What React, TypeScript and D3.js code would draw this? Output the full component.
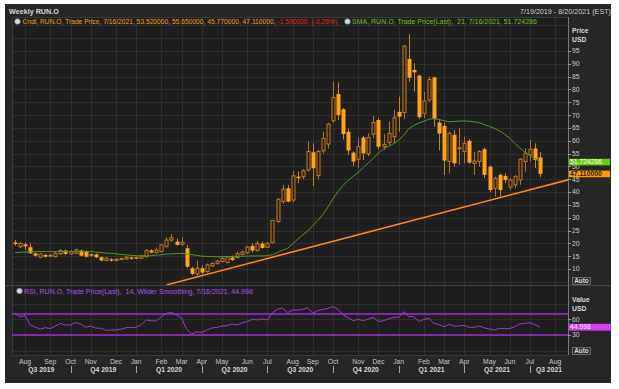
import * as d3 from "d3";

// weekly bars, first bar 7/19/2019
const startDate = new Date(Date.UTC(2019, 6, 19));

const opens = [
  20.3, 18.7, 19.6, 18.5, 16.1, 14.6, 15.5, 15.3, 14.8, 15.9,
  17.2, 15.9, 16.1, 17.2, 16.8, 15.7, 15.7, 14.6, 13.3, 13.8,
  13.3, 13.8, 13.9, 14.5, 14.2, 14.2, 14.8, 17.2, 16.4, 16.8,
  18.7, 21.3, 20.7, 19.6, 18.1, 10.3, 8.1, 10.3, 9.0, 11.2,
  12.2, 12.9, 12.5, 14.5, 14.5, 15.7, 16.3, 19.0, 17.2, 19.9,
  18.5, 20.3, 28.5, 36.3, 41.5, 36.9, 46.0, 46.0, 48.6, 55.5,
  46.4, 56.1, 58.7, 67.8, 78.2, 72.3, 63.5, 55.4, 52.8, 61.3,
  54.9, 62.6, 68.1, 57.7, 59.3, 61.6, 71.3, 71.0, 91.9, 87.6,
  85.4, 70.7, 75.9, 84.7, 67.1, 65.8, 51.9, 62.3, 57.0, 55.8,
  60.0, 51.2, 51.9, 56.7, 49.9, 41.5, 46.7, 46.3, 41.9, 42.8,
  44.7, 51.9, 54.5, 57.0, 53.52,
];
const highs = [
  21.3, 20.4, 20.3, 20.0, 16.5, 16.3, 15.9, 15.8, 16.7, 17.8,
  17.6, 17.4, 18.0, 17.6, 17.2, 16.1, 16.1, 14.9, 14.6, 14.2,
  14.2, 14.4, 15.0, 14.8, 14.9, 15.5, 17.8, 17.7, 18.3, 19.8,
  22.3, 23.6, 21.9, 22.4, 19.4, 10.9, 13.3, 11.4, 12.1, 12.6,
  13.6, 14.9, 15.2, 15.3, 16.8, 17.2, 19.0, 20.1, 20.9, 20.7,
  20.5, 29.1, 37.6, 42.8, 42.8, 48.3, 48.0, 48.9, 59.7, 59.0,
  56.4, 63.5, 67.0, 83.0, 82.7, 72.7, 64.8, 55.8, 61.3, 61.9,
  62.9, 69.7, 68.8, 62.6, 67.5, 72.0, 77.2, 97.3, 101.5, 90.2,
  85.8, 79.1, 85.0, 85.0, 68.0, 67.0, 63.6, 64.2, 64.9, 61.6,
  60.6, 55.8, 56.4, 57.3, 50.5, 46.0, 47.3, 47.3, 45.4, 46.7,
  53.2, 57.0, 60.3, 59.0, 55.65,
];
const lows = [
  19.1, 18.1, 17.4, 15.9, 14.8, 14.4, 14.5, 14.6, 14.6, 15.5,
  15.4, 15.6, 15.8, 14.9, 14.5, 14.8, 14.3, 13.0, 13.0, 12.9,
  13.0, 13.5, 13.6, 13.6, 13.8, 13.9, 14.6, 16.1, 16.0, 16.5,
  18.5, 20.6, 19.1, 19.0, 10.4, 7.7, 7.3, 8.0, 8.6, 10.9,
  11.7, 12.6, 12.2, 13.2, 14.2, 15.4, 16.0, 16.4, 16.7, 18.0,
  18.3, 20.0, 28.0, 35.5, 36.0, 36.0, 43.4, 45.0, 48.0, 42.3,
  45.0, 55.0, 57.0, 67.0, 68.0, 60.5, 54.5, 50.2, 49.3, 52.5,
  54.0, 61.0, 56.7, 56.4, 58.4, 59.0, 63.5, 68.4, 83.0, 79.2,
  68.4, 68.8, 75.2, 65.5, 56.2, 46.7, 47.3, 49.9, 50.6, 51.2,
  51.0, 46.7, 49.9, 45.5, 40.0, 38.2, 38.2, 43.4, 40.8, 41.5,
  42.8, 48.0, 51.9, 49.3, 45.77,
];
const closes = [
  19.7, 20.0, 18.8, 16.1, 15.2, 15.9, 14.8, 15.4, 16.1, 17.2,
  15.9, 16.8, 17.4, 15.2, 14.8, 15.2, 14.6, 13.3, 14.2, 13.3,
  13.8, 14.1, 14.6, 14.0, 14.5, 15.1, 17.2, 16.4, 17.4, 19.4,
  21.3, 22.2, 19.4, 20.4, 10.9, 8.1, 10.3, 8.6, 11.6, 12.2,
  13.1, 14.2, 14.8, 13.5, 16.0, 16.6, 18.5, 17.2, 20.0, 18.2,
  20.0, 28.9, 37.2, 41.1, 36.3, 46.3, 45.4, 48.3, 55.8, 49.3,
  55.8, 60.9, 66.5, 76.9, 70.0, 62.6, 56.2, 51.9, 57.7, 55.1,
  61.3, 67.1, 57.7, 58.6, 62.9, 69.0, 69.4, 96.9, 84.6, 86.7,
  69.2, 75.5, 83.9, 68.4, 62.8, 52.3, 62.9, 51.2, 57.3, 59.0,
  51.5, 52.1, 55.8, 46.7, 40.8, 45.4, 40.8, 44.7, 44.7, 46.0,
  52.8, 55.1, 56.7, 52.5, 47.11,
];
const sma21 = [
  16.4, 16.5, 16.6, 16.7, 16.8, 16.8, 16.8, 16.8, 16.8, 16.8,
  16.8, 16.8, 16.8, 16.8, 16.8, 16.8, 16.6, 16.4, 16.2, 16.1,
  15.9, 15.7, 15.5, 15.3, 15.2, 15.1, 15.1, 15.2, 15.4, 15.6,
  15.8, 15.9, 16.0, 16.1, 15.9, 15.6, 15.3, 15.0, 14.9, 14.8,
  14.8, 14.8, 14.8, 14.9, 14.9, 15.0, 15.0, 15.1, 15.1, 15.1,
  15.2, 15.6, 16.5, 17.3, 18.1, 19.8, 21.6, 23.3, 24.8, 26.9,
  29.0, 31.2, 34.2, 37.4, 40.2, 42.6, 44.6, 46.1, 47.7, 49.6,
  51.4, 53.2, 55.2, 56.8, 57.8, 58.9, 60.2, 62.2, 64.6, 66.0,
  66.9, 67.6, 68.4, 68.7, 68.3, 67.8, 67.4, 67.5, 67.7, 67.7,
  67.6, 67.4, 67.0, 66.3, 65.6, 64.8, 63.8, 62.5, 61.0, 59.0,
  57.2, 55.6, 54.4, 53.0, 51.72,
];
const rsi14 = [
  71, 65, 67, 49, 45, 41, 44, 42, 47, 52,
  49, 49, 54, 51, 45, 47, 43, 43, 39, 39.5,
  39.5, 41, 44, 44, 45, 49, 58.6, 57, 57, 65,
  71, 73, 68, 62, 41, 32, 36, 35, 39.5, 43.3,
  44.6, 47.1, 47.8, 51, 49, 53.5, 55.4, 59.8, 58.6, 60.5,
  58.6, 72.5, 78.9, 81.5, 72.5, 77.6, 77.6, 78.9, 82, 71.3,
  76.4, 78.9, 80.8, 84, 78.9, 68, 62.9, 57.3, 59.8, 57.3,
  60.5, 63.7, 55.4, 57.3, 60.5, 63.7, 63.7, 74.4, 64.9, 64.9,
  55.4, 59.8, 61.7, 52.2, 49.7, 45.9, 50.3, 47.1, 47.1, 48.4,
  44.6, 44.6, 47.1, 43.3, 41.4, 39.5, 42.7, 42.1, 42.1, 45.9,
  51, 52.2, 53.5, 49.7, 44.998,
];

const monthTickDates = [
  "2019-08-02", "2019-09-06", "2019-10-04", "2019-11-01", "2019-12-06",
  "2020-01-03", "2020-02-07", "2020-03-06", "2020-04-03", "2020-05-01",
  "2020-06-05", "2020-07-03", "2020-08-07", "2020-09-04", "2020-10-02",
  "2020-11-06", "2020-12-04", "2021-01-01", "2021-02-05", "2021-03-05",
  "2021-04-02", "2021-05-07", "2021-06-04", "2021-07-02", "2021-08-06",
];
const quarterStarts = ["2019-10-04", "2020-01-03", "2020-04-03", "2020-07-03", "2020-10-02", "2021-01-01", "2021-04-02", "2021-07-02"];
const quarterLabels = ["Q3 2019", "Q4 2019", "Q1 2020", "Q2 2020", "Q3 2020", "Q4 2020", "Q1 2021", "Q2 2021", "Q3 2021"];

const trendDates = ["2020-02-14", "2021-08-27"];
const trendPrices = [3.8, 45.0];

const priceTicks = d3.range(10, 100, 5);
const priceGrid = d3.range(5, 110, 5);
const rsiTicks = [60, 30];
const rsiGrid = [0, 30, 60, 90];
const rsiBands = [70, 30];

const lastSma = 51.724286;
const lastClose = 47.11;
const lastRsi = 44.998;

const weeks = closes.map((_, i) => d3.utcDay.offset(startDate, 7 * i));
const parse = d3.utcParse("%Y-%m-%d");
const fmtMonth = d3.utcFormat("%b");

const W = 619;
const H = 389;
const left = 12;
const right = 568;
const priceTop = 17;
const priceBottom = 285;
const rsiBottom = 355;

const x = d3.scaleUtc().domain([weeks[0], weeks[weeks.length - 1]]).range([15, 540]);
const y = d3.scaleLinear().domain([10, 95]).range([269, 51]);
const yRsi = d3.scaleLinear().domain([30, 70]).range([335, 314]);

const font = "'Liberation Sans', Arial, sans-serif";
const axisText = "#c9c9c9";
const grid = "#2f2f2f";
const fs = 6.8;

export default function App() {
  const smaLine = d3.line<number>().x((_, i) => x(weeks[i])).y((d) => y(d));
  const rsiLine = d3.line<number>().x((_, i) => x(weeks[i])).y((d) => yRsi(d));
  const trendLine = d3.line<string>().x((d) => x(parse(d)!)).y((_, i) => y(trendPrices[i]));

  const qBounds = [left, ...quarterStarts.map((d) => x(parse(d)!)), right];

  return (
    <div style={{ position: "absolute", left: 0, top: 0 }}>
      <svg width={W} height={H} style={{ display: "block", background: "#ffffff" }} fontFamily={font}>
        <defs>
          <clipPath id="pclip">
            <rect x={left} y={priceTop} width={right - left} height={priceBottom - priceTop} />
          </clipPath>
          <clipPath id="rclip">
            <rect x={left} y={priceBottom} width={right - left} height={rsiBottom - priceBottom} />
          </clipPath>
        </defs>
        <rect x={5} y={4} width={606} height={379} fill="#262626" />
        <rect x={left} y={priceTop} width={right - left} height={rsiBottom - priceTop} fill="#1e1e1e" />

        {/* grid */}
        {monthTickDates.map((d) => (
          <line key={d} x1={Math.round(x(parse(d)!)) + 0.5} x2={Math.round(x(parse(d)!)) + 0.5} y1={priceTop} y2={rsiBottom} stroke={grid} />
        ))}
        {priceGrid.map((v) => (
          <line key={v} x1={left} x2={right} y1={Math.round(y(v)) + 0.5} y2={Math.round(y(v)) + 0.5} stroke={grid} clipPath="url(#pclip)" />
        ))}
        {rsiGrid.map((v) => (
          <line key={v} x1={left} x2={right} y1={Math.round(yRsi(v)) + 0.5} y2={Math.round(yRsi(v)) + 0.5} stroke={grid} clipPath="url(#rclip)" />
        ))}
        <line x1={5} x2={611} y1={priceBottom + 0.5} y2={priceBottom + 0.5} stroke="#444" />
        <line x1={left} x2={right} y1={rsiBottom + 0.5} y2={rsiBottom + 0.5} stroke="#3a3a3a" />
        <line x1={left + 0.5} x2={left + 0.5} y1={priceTop} y2={rsiBottom} stroke="#3a3a3a" />
        <line x1={left} x2={right} y1={priceTop + 0.5} y2={priceTop + 0.5} stroke="#3a3a3a" />
        <line x1={right + 0.5} x2={right + 0.5} y1={priceTop} y2={rsiBottom} stroke="#777" />

        {/* candles */}
        <g clipPath="url(#pclip)">
          {weeks.map((d, i) => {
            const cx = Math.round(x(d)) + 0.5;
            const up = closes[i] >= opens[i];
            const top = y(Math.max(opens[i], closes[i]));
            const bot = y(Math.min(opens[i], closes[i]));
            return (
              <g key={i}>
                <line x1={cx} x2={cx} y1={y(highs[i])} y2={y(lows[i])} stroke={up ? "#b5741b" : "#c9851d"} />
                {up ? (
                  <rect x={cx - 1.5} y={top} width={3} height={Math.max(1, bot - top)} fill="#2a2116" stroke="#c07a1a" strokeWidth={1} />
                ) : (
                  <rect x={cx - 2} y={top} width={4} height={Math.max(1, bot - top)} fill="#ffa31a" />
                )}
              </g>
            );
          })}
          <path d={smaLine(sma21) ?? ""} fill="none" stroke="#4f9a1c" strokeWidth={1} />
          <path d={trendLine(trendDates) ?? ""} fill="none" stroke="#ff8a1c" strokeWidth={1.6} />
        </g>

        {/* rsi */}
        <g clipPath="url(#rclip)">
          {rsiBands.map((v) => (
            <line key={v} x1={left} x2={right} y1={yRsi(v)} y2={yRsi(v)} stroke="#9b2fd0" strokeWidth={1.5} />
          ))}
          <path d={rsiLine(rsi14) ?? ""} fill="none" stroke="#a536d8" strokeWidth={1} />
        </g>

        {/* header */}
        <text x={9} y={13.5} fontSize={7.2} fontWeight="bold" fill="#d8d8d8">Weekly RUN.O</text>
        <text x={611} y={13.5} fontSize={7.2} fill="#d0d0d0" textAnchor="end">7/19/2019 - 8/20/2021 (EST)</text>
        <circle cx={17.5} cy={21.5} r={2.8} fill="#cfd6dc" stroke="#7a8a96" strokeWidth={0.6} />
        <text x={22.5} y={24} fontSize={6.7} fill="#f0a020">
          Cndl, RUN.O, Trade Price, 7/16/2021, 53.520000, 55.650000, 45.770000, 47.110000,{" "}
          <tspan fill="#e8221e">-1.590000, (-3.26%),</tspan>
        </text>
        <circle cx={347.5} cy={21.5} r={2.8} fill="#cfd6dc" stroke="#7a8a96" strokeWidth={0.6} />
        <text x={352} y={24} fontSize={7} fill="#6cbf24" style={{ whiteSpace: "pre" }}>SMA, RUN.O, Trade Price(Last),  21, 7/16/2021, 51.724286</text>
        <circle cx={19.5} cy={291} r={2.8} fill="#cfd6dc" stroke="#7a8a96" strokeWidth={0.6} />
        <text x={24} y={293.5} fontSize={7} fill="#b250e2" style={{ whiteSpace: "pre" }}>RSI, RUN.O, Trade Price(Last),  14, Wilder Smoothing, 7/16/2021, 44.998</text>

        {/* price axis */}
        <text x={572} y={33} fontSize={fs} fontWeight="bold" fill="#d8d8d8">Price</text>
        <text x={572} y={42} fontSize={fs} fontWeight="bold" fill="#d8d8d8">USD</text>
        {priceTicks.map((v) => (
          <g key={v}>
            <line x1={right} x2={right + 3} y1={Math.round(y(v)) + 0.5} y2={Math.round(y(v)) + 0.5} stroke="#999" />
            <text x={572} y={y(v) + 2.4} fontSize={fs} fill={axisText}>{v}</text>
          </g>
        ))}
        <rect x={right + 1} y={y(lastSma) - 3.2} width={41} height={6.6} fill="#66cc11" />
        <text x={right + 2} y={y(lastSma) + 2.2} fontSize={fs} fill="#f2ffe8">{lastSma.toFixed(6)}</text>
        <rect x={right + 1} y={y(lastClose) - 3.2} width={41} height={6.6} fill="#ff9a00" />
        <text x={right + 2} y={y(lastClose) + 2.2} fontSize={fs} fontWeight="bold" fill="#1a1a1a">{lastClose.toFixed(6)}</text>
        <rect x={572.5} y={277.5} width={18} height={7} fill="#2a2a2a" stroke="#999" strokeWidth={0.6} />
        <text x={581.5} y={283} fontSize={6.4} fontWeight="bold" fill="#d8d8d8" textAnchor="middle">Auto</text>

        {/* rsi axis */}
        <text x={572} y={302} fontSize={fs} fontWeight="bold" fill="#d8d8d8">Value</text>
        <text x={572} y={310.5} fontSize={fs} fontWeight="bold" fill="#d8d8d8">USD</text>
        {rsiTicks.map((v) => (
          <g key={v}>
            <line x1={right} x2={right + 3} y1={Math.round(yRsi(v)) + 0.5} y2={Math.round(yRsi(v)) + 0.5} stroke="#999" />
            <text x={572} y={yRsi(v) + 2.4} fontSize={fs} fill={axisText}>{v}</text>
          </g>
        ))}
        <rect x={right + 1} y={yRsi(lastRsi) - 3.3} width={42} height={6.8} fill="#d23ff0" />
        <text x={right + 2} y={yRsi(lastRsi) + 2.3} fontSize={fs} fill="#fbeaff">{lastRsi.toFixed(3)}</text>
        <rect x={572.5} y={347.5} width={18} height={7} fill="#2a2a2a" stroke="#999" strokeWidth={0.6} />
        <text x={581.5} y={353} fontSize={6.4} fontWeight="bold" fill="#d8d8d8" textAnchor="middle">Auto</text>

        {/* time axis */}
        {monthTickDates.map((d) => (
          <text key={d} x={x(parse(d)!)} y={364} fontSize={fs} fill={axisText} textAnchor="middle">{fmtMonth(parse(d)!)}</text>
        ))}
        {quarterStarts.map((d) => (
          <line key={d} x1={Math.round(x(parse(d)!)) + 0.5} x2={Math.round(x(parse(d)!)) + 0.5} y1={366} y2={373} stroke="#c9c9c9" strokeWidth={0.8} />
        ))}
        {quarterLabels.map((q, i) => (
          <text key={q} x={(qBounds[i] + qBounds[i + 1]) / 2} y={372} fontSize={fs} fontWeight="bold" fill="#d8d8d8" textAnchor="middle">{q}</text>
        ))}
      </svg>
    </div>
  );
}
